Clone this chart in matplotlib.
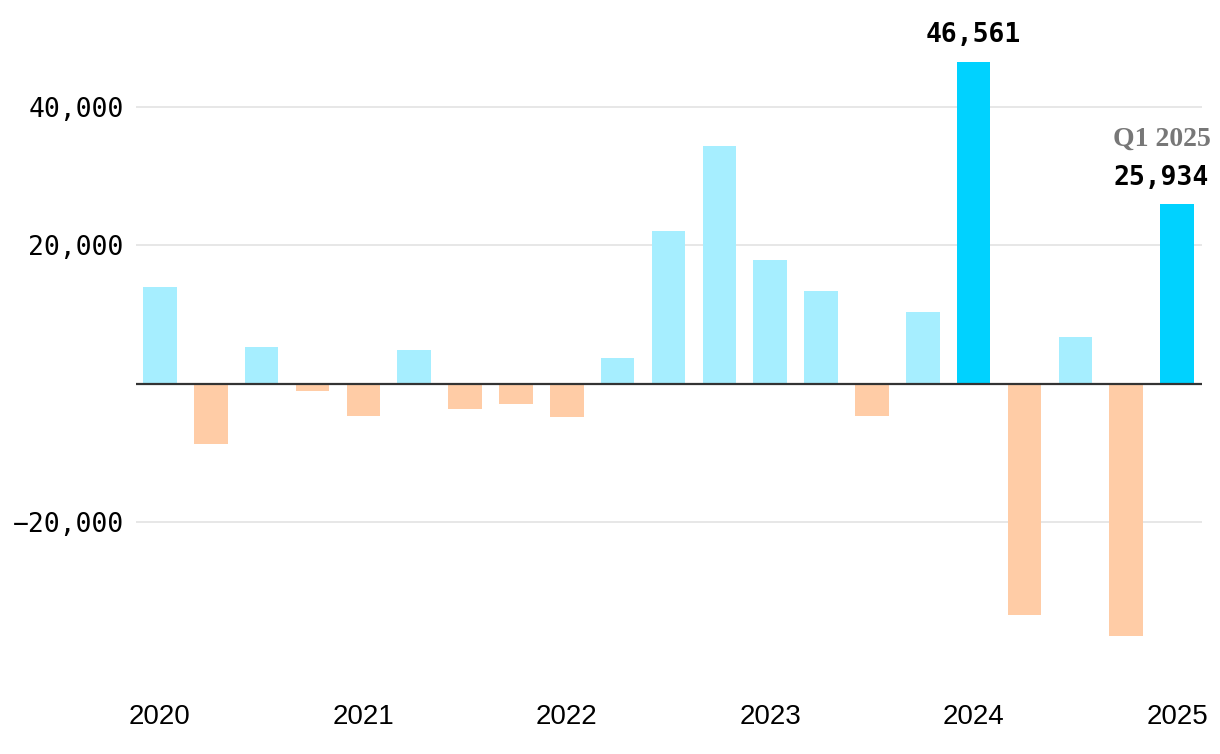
import matplotlib
matplotlib.use("Agg")
import matplotlib.pyplot as plt
import numpy as np

quarters = ["Q1 2020", "Q2 2020", "Q3 2020", "Q4 2020",
            "Q1 2021", "Q2 2021", "Q3 2021", "Q4 2021",
            "Q1 2022", "Q2 2022", "Q3 2022", "Q4 2022",
            "Q1 2023", "Q2 2023", "Q3 2023", "Q4 2023",
            "Q1 2024", "Q2 2024", "Q3 2024", "Q4 2024",
            "Q1 2025"]
values = [14000, -8700, 5300, -1000,
          -4600, 4900, -3600, -2900,
          -4800, 3800, 22100, 34400,
          17900, 13400, -4600, 10400,
          46561, -33400, 6800, -36400,
          25934]
highlight = ["Q1 2024", "Q1 2025"]
year_labels = ["2020", "2021", "2022", "2023", "2024", "2025"]
y_ticks = [-20000, 20000, 40000]

pos_color = "#a6eeff"
neg_color = "#ffcca6"
hi_color = "#00d2ff"

fig = plt.figure(figsize=(12.2, 7.54), dpi=100)
ax = fig.add_axes([136/1220, 1-680/754, (1202-136)/1220, (680-40)/754])

x = np.arange(len(values))
colors = []
for q, v in zip(quarters, values):
    if q in highlight:
        colors.append(hi_color)
    elif v >= 0:
        colors.append(pos_color)
    else:
        colors.append(neg_color)

ax.bar(x, values, width=0.66, color=colors, zorder=2)
ax.axhline(0, color="#333333", lw=1.6, zorder=3)

ax.set_xlim(-0.47, len(values) - 1 + 0.49)
ax.set_ylim(-42744, 49675)

ax.set_yticks(y_ticks)
ax.set_yticklabels([f"{t:,}".replace("-", "\u2212") for t in y_ticks],
                   family="DejaVu Sans Mono", fontsize=19)
ax.yaxis.grid(True, color="#e3e3e3", lw=1.2, zorder=0)
ax.tick_params(axis="y", length=0, pad=9)

ax.set_xticks(x[::4])
ax.set_xticklabels(year_labels, family="Liberation Sans", fontsize=20)
ax.tick_params(axis="x", length=0, pad=17)

for s in ax.spines.values():
    s.set_visible(False)

i24 = quarters.index("Q1 2024")
ax.annotate(f"{values[i24]:,}", (i24, values[i24]), xytext=(0, 14),
            textcoords="offset points", ha="center", va="baseline",
            family="DejaVu Sans Mono", fontweight="bold", fontsize=19)

i25 = quarters.index("Q1 2025")
ax.annotate(f"{values[i25]:,}", (i25, values[i25]), xytext=(23, 14),
            textcoords="offset points", ha="right", va="baseline",
            family="DejaVu Sans Mono", fontweight="bold", fontsize=19)
ax.annotate("Q1 2025", (i25, values[i25]), xytext=(24, 42),
            textcoords="offset points", ha="right", va="baseline",
            family="Liberation Serif", fontweight="bold", fontsize=20,
            color="#777777")

fig.savefig("out.png", dpi=100)
